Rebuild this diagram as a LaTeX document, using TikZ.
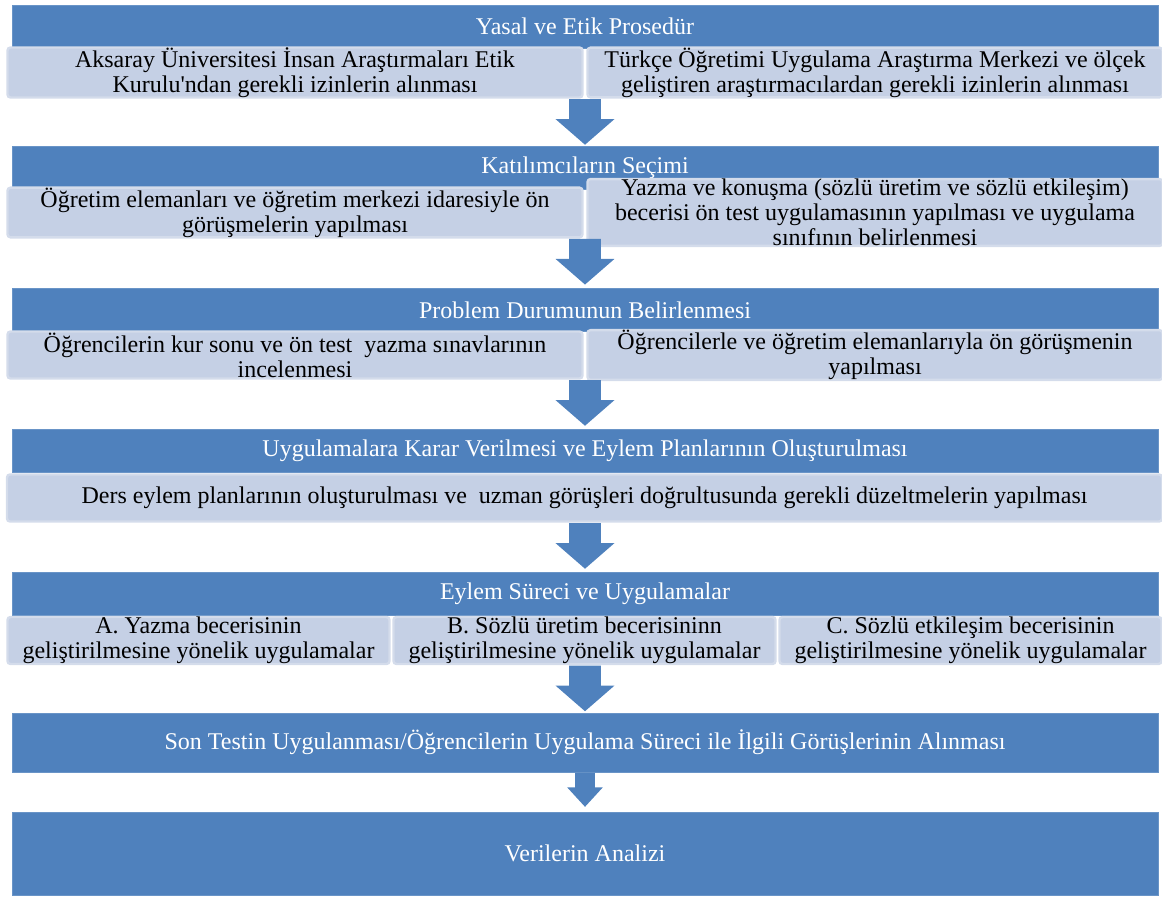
\documentclass[tikz,border=0pt]{standalone}
\usepackage{fontspec}
\setmainfont{Liberation Serif}
\usetikzlibrary{positioning,shapes.arrows}
\definecolor{stepblue}{HTML}{4F81BD}
\definecolor{notefill}{HTML}{C5D0E5}
\definecolor{noterim}{HTML}{D4DCEB}

\tikzset{
  header/.style={fill=stepblue, draw=stepblue!85!white, line width=0.4pt, text=white,
    minimum width=573pt, minimum height=21.5pt, inner sep=0pt,
    font=\fontsize{12}{12.5}\selectfont},
  note/.style={fill=notefill, draw=noterim, line width=1.2pt, rounded corners=1.5pt,
    minimum height=23.5pt, inner sep=0pt, align=center,
    font=\fontsize{12}{12.5}\selectfont},
  halfnote/.style={note, minimum width=287.5pt},
  thirdnote/.style={note, minimum width=191pt},
  downarrow/.style={single arrow, shape border rotate=270, fill=stepblue, draw=none,
    inner sep=7.75pt, anchor=tail, minimum width=29pt, minimum height=22.5pt,
    single arrow head extend=6.75pt, single arrow tip angle=98},
  smallarrow/.style={downarrow, inner sep=4.75pt, minimum width=17.5pt, minimum height=17pt,
    single arrow head extend=4pt, single arrow tip angle=85}
}

\begin{document}
\begin{tikzpicture}[x=0.5pt,y=-0.5pt]
  \useasboundingbox (0,0) rectangle (1162,900);

  % Yasal ve etik prosedur
  \node[header] (h1) at (585,26.5) {Yasal ve Etik Prosedür};
  \node[halfnote] (s1a) at (295,72.5)
    {Aksaray Üniversitesi İnsan Araştırmaları Etik\\Kurulu\textquotesingle ndan gerekli izinlerin alınması};
  \node[halfnote] (s1b) at (875,72.5)
    {Türkçe Öğretimi Uygulama Araştırma Merkezi ve ölçek\\geliştiren araştırmacılardan gerekli izinlerin alınması};
  \node[downarrow] (a1) at (h1.center |- s1a.south) {};

  % Katilimcilar
  \node[header] (h2) at (585,167.5) {Katılımcıların Seçimi};
  \node[halfnote] (s2a) at (295,212.5)
    {Öğretim elemanları ve öğretim merkezi idaresiyle ön\\görüşmelerin yapılması};
  \node[halfnote] (s2b) at (875,212.5)
    {Yazma ve konuşma (sözlü üretim ve sözlü etkileşim)\\becerisi ön test uygulamasının yapılması ve uygulama\\sınıfının belirlenmesi};
  \node[downarrow] (a2) at (h2.center |- s2a.south) {};

  % Problem durumu
  \node[header] (h3) at (585,310) {Problem Durumunun Belirlenmesi};
  \node[halfnote] (s3a) at (295,355)
    {Öğrencilerin kur sonu ve ön test\ \ yazma sınavlarının\\incelenmesi};
  \node[halfnote] (s3b) at (875,355)
    {Öğrencilerle ve öğretim elemanlarıyla ön görüşmenin\\yapılması};
  \node[downarrow] (a3) at (h3.center |- s3a.south) {};

  % Eylem planlari
  \node[header] (h4) at (585,451) {Uygulamalara Karar Verilmesi ve Eylem Planlarının Oluşturulması};
  \node[note, minimum width=577.5pt] (s4) at (584.5,498)
    {Ders eylem planlarının oluşturulması ve\ \ uzman görüşleri doğrultusunda gerekli düzeltmelerin yapılması};
  \node[downarrow] (a4) at (h4.center |- s4.south) {};

  % Uygulamalar
  \node[header] (h5) at (585,594) {Eylem Süreci ve Uygulamalar};
  \node[thirdnote] (s5a) at (198.5,640.5)
    {A. Yazma becerisinin\\geliştirilmesine yönelik uygulamalar};
  \node[thirdnote] (s5b) at (584.5,640.5)
    {B. Sözlü üretim becerisininn\\geliştirilmesine yönelik uygulamalar};
  \node[thirdnote] (s5c) at (970.5,640.5)
    {C. Sözlü etkileşim becerisinin\\geliştirilmesine yönelik uygulamalar};
  \node[downarrow] (a5) at (h5.center |- s5b.south) {};

  \node[header, minimum height=29.5pt] (h6) at (585,742.5)
    {Son Testin Uygulanması/Öğrencilerin Uygulama Süreci ile İlgili Görüşlerinin Alınması};
  \node[smallarrow] (a6) at (h6.south) {};
  \node[header, minimum height=41.5pt] (h7) at (585,853.5) {Verilerin Analizi};
\end{tikzpicture}
\end{document}
